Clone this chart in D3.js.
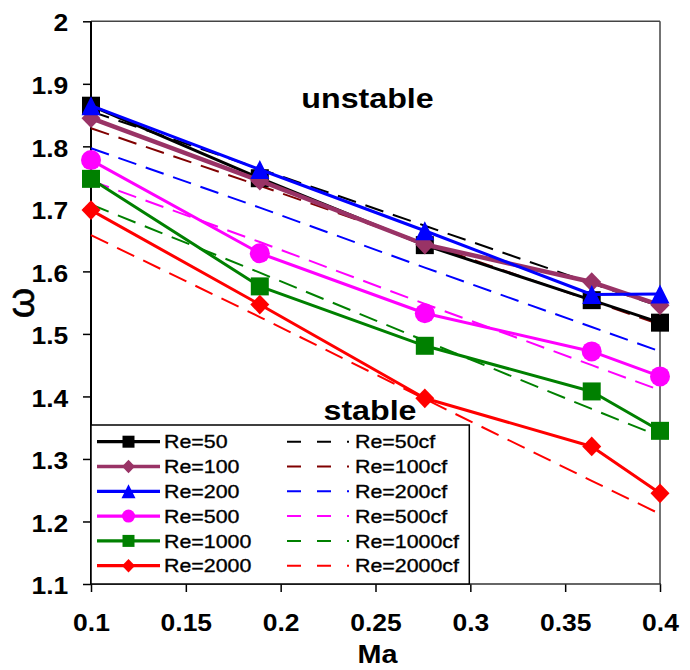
<!DOCTYPE html>
<html>
<head>
<meta charset="utf-8">
<script src="https://cdn.jsdelivr.net/npm/d3@7"></script>
<style>
  body { margin: 0; background: #fff; }
  svg { display: block; }
  text { font-family: "Liberation Sans", Arial, sans-serif; fill: #000; }
</style>
</head>
<body>
<svg id="chart" width="690" height="670"></svg>
<script>
// Mach numbers at which growth rates were computed
const machNumbers = [0.1, 0.189, 0.276, 0.364, 0.4];

// Computed stability boundary omega for each Reynolds number
const re50   = [1.865, 1.749, 1.642, 1.554, 1.518];
const re100  = [1.845, 1.745, 1.643, 1.583, 1.546];
const re200  = [1.865, 1.763, 1.665, 1.563, 1.564];
const re500  = [1.778, 1.629, 1.533, 1.472, 1.432];
const re1000 = [1.748, 1.576, 1.481, 1.408, 1.345];
const re2000 = [1.698, 1.547, 1.397, 1.320, 1.245];

// Curve-fit ("cf") predictions for the same Reynolds numbers
const re50cf   = [1.856, 1.764, 1.673, 1.581, 1.544];
const re100cf  = [1.829, 1.737, 1.645, 1.553, 1.515];
const re200cf  = [1.797, 1.702, 1.606, 1.511, 1.472];
const re500cf  = [1.745, 1.647, 1.548, 1.450, 1.410];
const re1000cf = [1.707, 1.598, 1.489, 1.380, 1.336];
const re2000cf = [1.658, 1.527, 1.396, 1.265, 1.212];

const seriesNames = ["Re=50", "Re=100", "Re=200", "Re=500", "Re=1000", "Re=2000"];
const cfNames = ["Re=50cf", "Re=100cf", "Re=200cf", "Re=500cf", "Re=1000cf", "Re=2000cf"];

const xTicks = [0.1, 0.15, 0.2, 0.25, 0.3, 0.35, 0.4];
const xTickLabels = ["0.1", "0.15", "0.2", "0.25", "0.3", "0.35", "0.4"];
const yTicks = [1.1, 1.2, 1.3, 1.4, 1.5, 1.6, 1.7, 1.8, 1.9, 2.0];
const yTickLabels = ["1.1", "1.2", "1.3", "1.4", "1.5", "1.6", "1.7", "1.8", "1.9", "2"];

const solidData = [re50, re100, re200, re500, re1000, re2000];
const cfData = [re50cf, re100cf, re200cf, re500cf, re1000cf, re2000cf];

// Drawing styles
const solidStyles = [
  { color: "#000000", shape: "square",   width: 3 },
  { color: "#993366", shape: "diamond",  width: 4.5 },
  { color: "#0000ff", shape: "triangle", width: 3 },
  { color: "#ff00ff", shape: "circle",   width: 3 },
  { color: "#008000", shape: "square",   width: 3 },
  { color: "#ff0000", shape: "diamond",  width: 3 }
];
const cfColors = ["#000000", "#800000", "#0000ff", "#ff00ff", "#008000", "#ff0000"];

const STRETCH = 1.15; // horizontal widening of all lettering

const svg = d3.select("#chart");
const plot = { left: 91, right: 660, top: 21.3, bottom: 584 };

const x = d3.scaleLinear().domain([0.1, 0.4]).range([plot.left, plot.right]);
const y = d3.scaleLinear().domain([1.1, 2.0]).range([plot.bottom, plot.top]);

function markerPath(shape, s) {
  const h = s / 2;
  switch (shape) {
    case "square":   return `M${-h},${-h}H${h}V${h}H${-h}Z`;
    case "diamond":  return `M0,${-h * 1.04}L${h},0L0,${h * 1.04}L${-h},0Z`;
    case "triangle": return `M0,${-h}L${h},${h}L${-h},${h}Z`;
    case "circle":   return d3.symbol(d3.symbolCircle, Math.PI * h * h)();
  }
}
const markerSize = { square: 18, diamond: 19, triangle: 19, circle: 20 };
const legendMarkerSize = { square: 12, diamond: 13, triangle: 14, circle: 13 };

function stretchedText(parent, px, py, str, size, weight, anchor) {
  return parent.append("text")
    .attr("transform", `translate(${px},${py}) scale(${STRETCH},1)`)
    .attr("text-anchor", anchor || "start")
    .attr("font-size", size)
    .attr("font-weight", weight || "normal")
    .text(str);
}

// Axes with outward ticks
const yAxis = d3.axisLeft(y).tickValues(yTicks).tickSize(8)
  .tickFormat((d, i) => yTickLabels[i]);
const xAxis = d3.axisBottom(x).tickValues(xTicks).tickSize(8)
  .tickFormat((d, i) => xTickLabels[i]);

const gy = svg.append("g").attr("transform", `translate(${plot.left},0)`).call(yAxis);
const gx = svg.append("g").attr("transform", `translate(0,${plot.bottom})`).call(xAxis);
[gy, gx].forEach(g => {
  g.select(".domain").remove();
  g.attr("font-family", null).attr("font-size", null);
  g.selectAll(".tick line").attr("stroke", "#000").attr("stroke-width", 1.5);
  g.selectAll(".tick text")
    .attr("font-size", 23).attr("font-weight", "bold").attr("fill", "#000");
});
gy.selectAll(".tick text")
  .attr("x", null).attr("dy", "0.42em").attr("text-anchor", "end")
  .attr("transform", `translate(-22.7,0) scale(${STRETCH},1)`);
gx.selectAll(".tick text")
  .attr("y", null).attr("dy", null).attr("text-anchor", "middle")
  .attr("transform", `translate(0,47) scale(${STRETCH},1)`);

// Plot frame
svg.append("line").attr("x1", plot.left).attr("x2", plot.right)
  .attr("y1", plot.top).attr("y2", plot.top).attr("stroke", "#444").attr("stroke-width", 1.5);
svg.append("line").attr("x1", plot.right).attr("x2", plot.right)
  .attr("y1", plot.top).attr("y2", plot.bottom).attr("stroke", "#444").attr("stroke-width", 1.5);
svg.append("line").attr("x1", plot.left).attr("x2", plot.right + 1)
  .attr("y1", plot.bottom).attr("y2", plot.bottom).attr("stroke", "#333").attr("stroke-width", 1.5);
svg.append("line").attr("x1", plot.left).attr("x2", plot.left)
  .attr("y1", plot.top).attr("y2", plot.bottom).attr("stroke", "#000").attr("stroke-width", 2);

// Axis titles
stretchedText(svg, 377.5, 663, "Ma", 25, "bold", "middle");
svg.append("text")
  .attr("transform", "translate(34,303) rotate(-90)")
  .attr("text-anchor", "middle")
  .attr("font-size", 39)
  .attr("stroke", "#000").attr("stroke-width", 0.6)
  .text("ω");

// Region annotations
stretchedText(svg, 367.5, 108, "unstable", 28, "bold", "middle");
stretchedText(svg, 370, 420, "stable", 28, "bold", "middle");

const line = d3.line().x((d, i) => x(machNumbers[i])).y(d => y(d));

// Curve-fit lines (dashed)
const gcf = svg.append("g");
cfData.forEach((vals, k) => {
  gcf.append("path").datum(vals)
    .attr("d", line)
    .attr("fill", "none")
    .attr("stroke", cfColors[k])
    .attr("stroke-width", 2)
    .attr("stroke-dasharray", "19,10");
});

// Computed series (solid with markers)
solidData.forEach((vals, k) => {
  const st = solidStyles[k];
  const g = svg.append("g");
  g.append("path").datum(vals)
    .attr("d", line)
    .attr("fill", "none")
    .attr("stroke", st.color)
    .attr("stroke-width", st.width)
    .attr("stroke-linejoin", "round");
  g.selectAll("path.mk").data(vals).join("path")
    .attr("class", "mk")
    .attr("transform", (d, i) => `translate(${x(machNumbers[i])},${y(d)})`)
    .attr("d", markerPath(st.shape, markerSize[st.shape]))
    .attr("fill", st.color);
});

// Legend
const lg = svg.append("g");
lg.append("rect")
  .attr("x", plot.left).attr("y", 425)
  .attr("width", 469.3 - plot.left).attr("height", plot.bottom - 425)
  .attr("fill", "#fff").attr("stroke", "#000").attr("stroke-width", 1.5);

const rowY = d3.range(seriesNames.length).map(i => 441.7 + i * 24.8);
seriesNames.forEach((name, i) => {
  const st = solidStyles[i];
  const yy = rowY[i];
  lg.append("line").attr("x1", 97).attr("x2", 160).attr("y1", yy).attr("y2", yy)
    .attr("stroke", st.color).attr("stroke-width", 3.3);
  lg.append("path").attr("transform", `translate(128.5,${yy})`)
    .attr("d", markerPath(st.shape, legendMarkerSize[st.shape]))
    .attr("fill", st.color);
  stretchedText(lg, 164, yy + 6.6, name, 18.6, "normal", "start")
    .attr("stroke", "#000").attr("stroke-width", 0.35);
});
cfNames.forEach((name, i) => {
  const yy = rowY[i];
  lg.append("line").attr("x1", 287).attr("x2", 349).attr("y1", yy).attr("y2", yy)
    .attr("stroke", cfColors[i]).attr("stroke-width", 2)
    .attr("stroke-dasharray", "14,16");
  stretchedText(lg, 355, yy + 6.6, name, 18.6, "normal", "start")
    .attr("stroke", "#000").attr("stroke-width", 0.35);
});
</script>
</body>
</html>
